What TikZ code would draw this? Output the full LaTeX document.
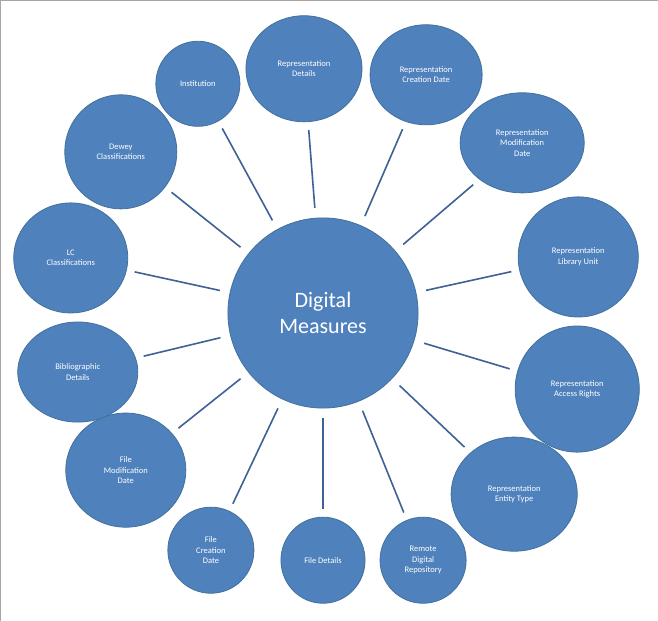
\documentclass[tikz,border=0pt]{standalone}
\usepackage{fontspec}
\setmainfont{Carlito}
\usetikzlibrary{shapes.geometric}
\definecolor{bubble}{HTML}{4F81BD}
\definecolor{rim}{HTML}{41719C}
\definecolor{spoke}{HTML}{3E6196}
\tikzset{
  leaf/.style={ellipse, fill=bubble, draw=rim, line width=0.8pt, text=white, align=center,
    inner sep=0pt, font=\fontsize{8.5}{10.5}\selectfont},
  hub/.style={leaf, font=\fontsize{22}{26}\selectfont},
  spokeline/.style={draw=spoke, line width=1.6pt, shorten <=10pt, shorten >=8pt}
}
\begin{document}
\begin{tikzpicture}[x=1pt,y=-1pt]
  \draw[draw=gray!70, fill=white] (0.5,0.5) rectangle (657.5,620.5);
  \node[hub, minimum width=190, minimum height=190] (dm) at (323,313) {Digital\\Measures};
  \node[leaf, minimum width=84, minimum height=85] (inst) at (198,84) {Institution};
  \node[leaf, minimum width=116, minimum height=106] (rdet) at (304,69) {Representation\\Details};
  \node[leaf, minimum width=112, minimum height=100] (rcre) at (426,75) {Representation\\Creation Date};
  \node[leaf, minimum width=124, minimum height=100] (rmod) at (522,143) {Representation\\Modification\\Date};
  \node[leaf, minimum width=120, minimum height=120] (rlib) at (578,257) {Representation\\Library Unit};
  \node[leaf, minimum width=124, minimum height=126] (racc) at (577,389) {Representation\\Access Rights};
  \node[leaf, minimum width=126, minimum height=114] (rent) at (514,494) {Representation\\Entity Type};
  \node[leaf, minimum width=86, minimum height=86] (rem) at (423,560) {Remote\\Digital\\Repository};
  \node[leaf, minimum width=84, minimum height=86] (fdet) at (323,560) {File Details};
  \node[leaf, minimum width=86, minimum height=86] (fcre) at (211,550) {File\\Creation\\Date};
  \node[leaf, minimum width=120, minimum height=114] (fmod) at (126,470) {File\\Modification\\Date};
  \node[leaf, minimum width=120, minimum height=100] (bib) at (78,372) {Bibliographic\\Details};
  \node[leaf, minimum width=114, minimum height=110] (lc) at (71,258) {LC\\Classifications};
  \node[leaf, minimum width=112, minimum height=114] (dew) at (121,152) {Dewey\\Classifications};
  \foreach \n in {inst,rdet,rcre,rmod,rlib,racc,rent,rem,fdet,fcre,fmod,bib,lc,dew}
    \path[spokeline] (dm) -- (\n);
\end{tikzpicture}
\end{document}
